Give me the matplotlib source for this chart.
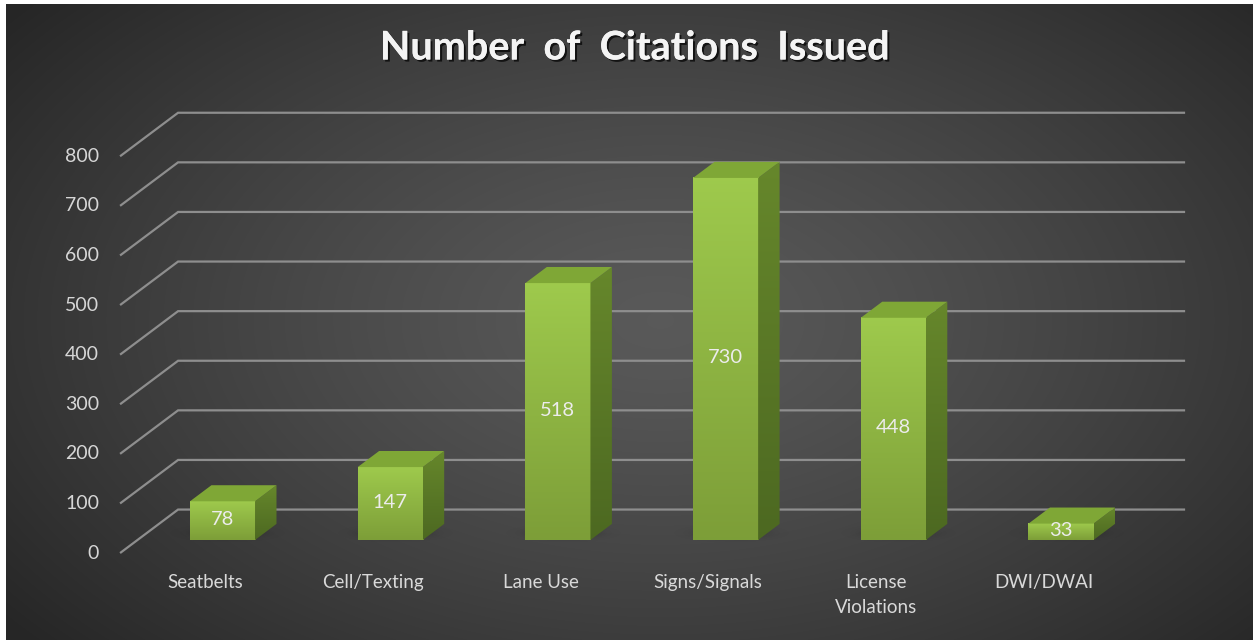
import numpy as np
import matplotlib
matplotlib.use("Agg")
import matplotlib.pyplot as plt
from matplotlib.patches import Polygon, Rectangle
import matplotlib.patheffects as pe

# ---------------- data ----------------
categories = ["Seatbelts", "Cell/Texting", "Lane Use", "Signs/Signals",
              "License\nViolations", "DWI/DWAI"]
values = [78, 147, 518, 730, 448, 33]
tick_values = [0, 100, 200, 300, 400, 500, 600, 700, 800]
tick_labels = [str(v) for v in tick_values]
title_text = "Number  of  Citations  Issued"

# ---------------- layout ----------------
W, H, DPI = 1253, 640, 100
PX_CAT = 167.7      # pixels per category step
PX_VAL = 0.496      # pixels per value unit
X0_PX = 222.5       # pixel x of first category
Y0_PX = 540         # pixel y (from top) of value 0 on bar front plane

FONT = ["Lato", "DejaVu Sans"]

fig = plt.figure(figsize=(W / DPI, H / DPI), dpi=DPI)
fig.patch.set_facecolor("#2b2b2b")
ax = fig.add_axes([0, 0, 1, 1])
xmin, xmax = -X0_PX / PX_CAT, (W - X0_PX) / PX_CAT
ymin, ymax = -(H - Y0_PX) / PX_VAL, Y0_PX / PX_VAL
ax.set_autoscale_on(False)
ax.set_xlim(xmin, xmax)
ax.set_ylim(ymin, ymax)
ax.axis("off")

DEPTH_X = 58 / PX_CAT
DEPTH_Y = 43.5 / PX_VAL
D_BAR0, D_BAR1 = 0.30, 0.67
WALL_L, WALL_R = -0.507, 5.498
BAR_W = 0.388


def proj(x, v, d):
    return x + (d - D_BAR0) * DEPTH_X, v + (d - D_BAR0) * DEPTH_Y


# ---------------- background ----------------
yy, xx = np.mgrid[0:H, 0:W]
r = np.sqrt(((xx - 660) / 720.0) ** 2 + ((yy - 320) / 430.0) ** 2)
g = 0.35 - (0.35 - 0.15) * np.clip(r / 1.15, 0, 1) ** 1.3
bg = np.dstack([g, g, g])
ax.imshow(bg, extent=(xmin, xmax, ymin, ymax), origin="upper",
          aspect="auto", zorder=0, interpolation="bilinear")

# ---------------- gridlines (floor slant + back wall) ----------------
for v, lab in zip(tick_values, tick_labels):
    xa, ya = proj(WALL_L, v, 0)
    xb, yb = proj(WALL_L, v, 1)
    xc, yc = proj(WALL_R, v, 1)
    ax.plot([xa, xb, xc], [ya, yb, yc], color="#8e8e8e", lw=1.6,
            zorder=1, solid_joinstyle="miter", solid_capstyle="butt")
    ax.annotate(lab, (xa, ya), xytext=(-15, 0), textcoords="offset points",
                ha="right", va="center", fontsize=14, color="#d6d6d6",
                family=FONT, zorder=10)

# ---------------- bars ----------------
front_top = np.array([0.62, 0.79, 0.30])
front_bot = np.array([0.49, 0.62, 0.22])
side_top = np.array([0.40, 0.53, 0.17])
side_bot = np.array([0.30, 0.41, 0.13])
top_col = "#7fa736"

for i, v in enumerate(values):
    xl, xr = i - BAR_W / 2, i + BAR_W / 2

    # soft floor shadow
    sx = np.linspace(-1, 1, 120)
    sy = np.linspace(-1, 1, 60)
    SX, SY = np.meshgrid(sx, sy)
    alpha = 0.55 * np.exp(-((SX / 0.55) ** 2 + (SY / 0.45) ** 2) * 2.2)
    sh = np.zeros((60, 120, 4))
    sh[..., 3] = alpha
    cx, cy = proj(i - 0.02, 0, 0.45)
    ax.imshow(sh, extent=(cx - 0.42, cx + 0.42, cy - 28, cy + 28),
              origin="lower", aspect="auto", zorder=2,
              interpolation="bilinear")

    # front face (vertical gradient)
    t = np.linspace(0, 1, 64)[:, None]
    fg = front_bot + (front_top - front_bot) * t[..., None]
    fg = np.repeat(fg, 8, axis=1)
    ax.imshow(fg, extent=(xl, xr, 0, v), origin="lower", aspect="auto",
              zorder=4, interpolation="bilinear")

    # side face
    p1 = proj(xr, 0, D_BAR0)
    p2 = proj(xr, v, D_BAR0)
    p3 = proj(xr, v, D_BAR1)
    p4 = proj(xr, 0, D_BAR1)
    side = Polygon([p1, p2, p3, p4], closed=True, facecolor="none",
                   edgecolor="none", zorder=4)
    ax.add_patch(side)
    sg = side_bot + (side_top - side_bot) * t[..., None]
    sg = np.repeat(sg, 8, axis=1)
    ys = [p1[1], p2[1], p3[1], p4[1]]
    im = ax.imshow(sg, extent=(p1[0], p3[0], min(ys), max(ys)),
                   origin="lower", aspect="auto", zorder=4,
                   interpolation="bilinear")
    im.set_clip_path(side)

    # top face
    q1 = proj(xl, v, D_BAR0)
    q2 = proj(xr, v, D_BAR0)
    q3 = proj(xr, v, D_BAR1)
    q4 = proj(xl, v, D_BAR1)
    ax.add_patch(Polygon([q1, q2, q3, q4], closed=True, facecolor=top_col,
                         edgecolor="none", zorder=5))

    # value label
    ax.text(i, v / 2 + 2, str(v), ha="center", va="center", fontsize=14.5,
            color="#ececec", family=FONT, zorder=10)

    # category label
    lx, ly = proj(i, 0, 0)
    ax.annotate(categories[i], (lx, ly), xytext=(0, -15),
                textcoords="offset points", ha="center", va="top",
                fontsize=13.5, color="#d9d9d9", family=FONT,
                linespacing=1.6, zorder=10)

# ---------------- title ----------------
fig.text(0.507, 1 - 48 / H, title_text, ha="center", va="center",
         fontsize=28.5, fontweight="bold", color="#f4f4f4", family=FONT,
         path_effects=[pe.withSimplePatchShadow(offset=(1.5, -1.5),
                                                shadow_rgbFace="black",
                                                alpha=0.7),
                       pe.Normal()])

# ---------------- white frame edges ----------------
fig.add_artist(Rectangle((0, 0), 6 / W, 1, transform=fig.transFigure,
                         facecolor="white", edgecolor="none", zorder=20))
fig.add_artist(Rectangle((0, 1 - 4 / H), 1, 4 / H, transform=fig.transFigure,
                         facecolor="white", edgecolor="none", zorder=20))

fig.savefig("out.png", dpi=DPI, facecolor=fig.get_facecolor())
